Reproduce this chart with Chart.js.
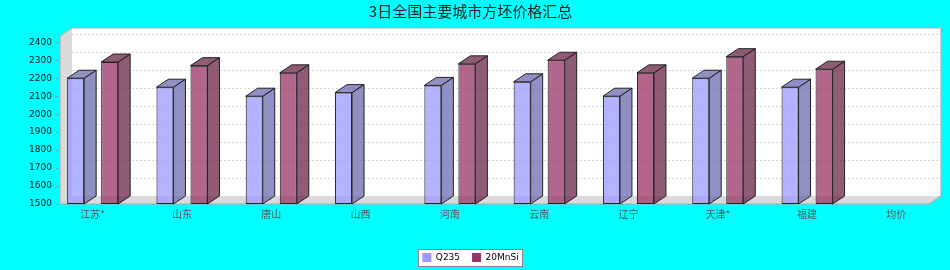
<!DOCTYPE html>
<html>
<head>
<meta charset="utf-8">
<script src="https://cdn.jsdelivr.net/npm/chart.js@4.4.1/dist/chart.umd.min.js"></script>
<style>
  html, body { margin: 0; padding: 0; background: #00ffff; }
  #wrap { width: 950px; height: 270px; }
</style>
</head>
<body>
<div id="wrap"><canvas id="myChart" width="950" height="270"></canvas></div>
<script>
const TITLE = '3日全国主要城市方坯价格汇总';
const CITIES = ['江苏*', '山东', '唐山', '山西', '河南', '云南', '辽宁', '天津*', '福建', '均价'];
const Q235 = [2200, 2150, 2100, 2120, 2160, 2180, 2100, 2200, 2150, null];
const MNSI = [2290, 2270, 2230, null, 2280, 2300, 2230, 2320, 2250, null];
const Y_TICKS = [1500, 1600, 1700, 1800, 1900, 2000, 2100, 2200, 2300, 2400];
const Y_MIN = 1500;
const Y_MAX = 2435;

// 3d depth of walls and bars
const DX = 12, DY = 8;
const NUM_FONT = '"DejaVu Sans", sans-serif';
const CJK_FONT = '"Noto Sans CJK SC", sans-serif';

const FRONT = ['rgba(153,153,255,0.75)', 'rgba(153,51,102,0.75)'];
const SIDE = ['rgba(107,107,178,0.75)', 'rgba(107,36,71,0.75)'];

function poly(ctx, pts) {
  ctx.beginPath();
  ctx.moveTo(pts[0][0], pts[0][1]);
  for (let i = 1; i < pts.length; i++) ctx.lineTo(pts[i][0], pts[i][1]);
  ctx.closePath();
}

const threeD = {
  id: 'threeD',
  beforeDraw(chart) {
    const ctx = chart.ctx;
    ctx.save();
    ctx.fillStyle = '#00ffff';
    ctx.fillRect(0, 0, chart.width, chart.height);
    // frame round the legend
    const boxes = chart.legend.legendHitBoxes;
    if (boxes && boxes.length) {
      const l = Math.min(...boxes.map(b => b.left)) - 4;
      const r = Math.max(...boxes.map(b => b.left + b.width)) + 4;
      const t = boxes[0].top - 4;
      const h = boxes[0].height + 8;
      ctx.fillStyle = '#fff';
      ctx.fillRect(Math.round(l) + 0.5, Math.round(t) + 0.5, Math.round(r - l), Math.round(h));
      ctx.strokeStyle = '#888';
      ctx.lineWidth = 1;
      ctx.strokeRect(Math.round(l) + 0.5, Math.round(t) + 0.5, Math.round(r - l), Math.round(h));
    }
    ctx.restore();
  },
  beforeDatasetsDraw(chart) {
    const {ctx, chartArea: ca, scales: {y}} = chart;
    const fl = ca.left + DX, fr = ca.right - DX, bl = fl + DX, br = ca.right;
    const ft = ca.top, fb = ca.bottom;
    ctx.save();
    ctx.lineWidth = 1;
    // back wall
    ctx.fillStyle = '#fff';
    ctx.fillRect(bl, ft - DY, br - bl, fb - ft);
    // left wall and floor
    ctx.fillStyle = '#dadada';
    poly(ctx, [[fl, ft], [bl, ft - DY], [bl, fb - DY], [fl, fb]]);
    ctx.fill();
    poly(ctx, [[fl, fb], [bl, fb - DY], [br, fb - DY], [fr, fb]]);
    ctx.fill();
    // grid lines
    ctx.strokeStyle = '#d6d6d6';
    ctx.setLineDash([2, 2]);
    y.ticks.forEach(t => {
      if (t.value === Y_MIN) return;
      const py = Math.round(y.getPixelForValue(t.value)) + 0.5;
      ctx.beginPath();
      ctx.moveTo(bl, py - DY);
      ctx.lineTo(br, py - DY);
      ctx.moveTo(fl, py);
      ctx.lineTo(bl, py - DY);
      ctx.stroke();
    });
    ctx.setLineDash([]);
    // little tick marks on the value axis
    ctx.strokeStyle = '#b08080';
    y.ticks.forEach(t => {
      const py = Math.round(y.getPixelForValue(t.value)) + 0.5;
      ctx.beginPath();
      ctx.moveTo(fl - 4, py);
      ctx.lineTo(fl - 2, py);
      ctx.stroke();
    });
    // outlines
    ctx.strokeStyle = '#aaa';
    poly(ctx, [[fl, fb], [fl, ft], [bl, ft - DY], [br, ft - DY], [br, fb - DY], [fr, fb]]);
    ctx.stroke();
    ctx.restore();
  },
  afterDatasetsDraw(chart) {
    const ctx = chart.ctx;
    ctx.save();
    ctx.lineWidth = 1;
    ctx.strokeStyle = '#222';
    chart.data.datasets.forEach((ds, i) => {
      const meta = chart.getDatasetMeta(i);
      meta.data.forEach((bar, j) => {
        if (ds.data[j] == null) return;
        const {x, y, base, width} = bar.getProps(['x', 'y', 'base', 'width'], true);
        const l = x - width / 2, r = x + width / 2;
        ctx.fillStyle = SIDE[i];
        poly(ctx, [[r, y], [r + DX, y - DY], [r + DX, base - DY], [r, base]]);
        ctx.fill();
        ctx.stroke();
        poly(ctx, [[l, y], [l + DX, y - DY], [r + DX, y - DY], [r, y]]);
        ctx.fill();
        ctx.stroke();
      });
    });
    ctx.restore();
  }
};

const config = {
  type: 'bar',
  data: {
    labels: CITIES,
    datasets: [{
      label: 'Q235',
      data: Q235,
      base: Y_MIN,
      backgroundColor: FRONT[0],
      borderColor: '#222',
      borderWidth: 1,
      borderSkipped: false
    }, {
      label: '20MnSi',
      data: MNSI,
      base: Y_MIN,
      backgroundColor: FRONT[1],
      borderColor: '#222',
      borderWidth: 1,
      borderSkipped: false
    }]
  },
  options: {
    responsive: false,
    animation: false,
    events: [],
    categoryPercentage: 0.762,
    barPercentage: 0.5,
    layout: { padding: { left: 0, right: 9, top: 0, bottom: 0 } },
    scales: {
      x: {
        grid: { display: false, drawTicks: false },
        border: { display: false },
        ticks: {
          padding: 4,
          color: '#555',
          font: { family: CJK_FONT, size: 10 },
          maxRotation: 0,
          autoSkip: false
        },
        afterFit(scale) { scale.height = 37; }
      },
      y: {
        min: Y_MIN,
        max: Y_MAX,
        grid: { display: false, drawTicks: false },
        border: { display: false },
        ticks: {
          // 4-digit labels all have the same width, so left-aligned mirror
          // labels line up like right-aligned ones
          mirror: true,
          padding: -19,
          color: '#111',
          autoSkip: false,
          font: { family: NUM_FONT, size: 9 },
          callback: v => String(v)
        },
        afterBuildTicks(scale) {
          scale.ticks = Y_TICKS.map(v => ({ value: v }));
        },
        afterFit(scale) { scale.width = 48; }
      }
    },
    plugins: {
      title: {
        display: true,
        text: TITLE,
        color: '#222',
        font: { family: CJK_FONT, size: 15, weight: 'normal' },
        padding: { top: 2, bottom: 16 }
      },
      legend: {
        position: 'bottom',
        maxHeight: 29,
        labels: {
          boxWidth: 9,
          boxHeight: 9,
          padding: 12,
          color: '#000',
          font: { family: NUM_FONT, size: 9 },
          generateLabels(chart) {
            return chart.data.datasets.map((ds, i) => ({
              text: ds.label,
              fillStyle: i === 0 ? '#9999ff' : '#993366',
              strokeStyle: i === 0 ? '#9999ff' : '#993366',
              lineWidth: 0,
              datasetIndex: i
            }));
          }
        }
      },
      tooltip: { enabled: false }
    }
  },
  plugins: [threeD]
};

function buildChart() {
  const ctx = document.getElementById('myChart').getContext('2d');
  return new Chart(ctx, config);
}

window.addEventListener('load', () => {
  buildChart();
});
</script>
</body>
</html>
